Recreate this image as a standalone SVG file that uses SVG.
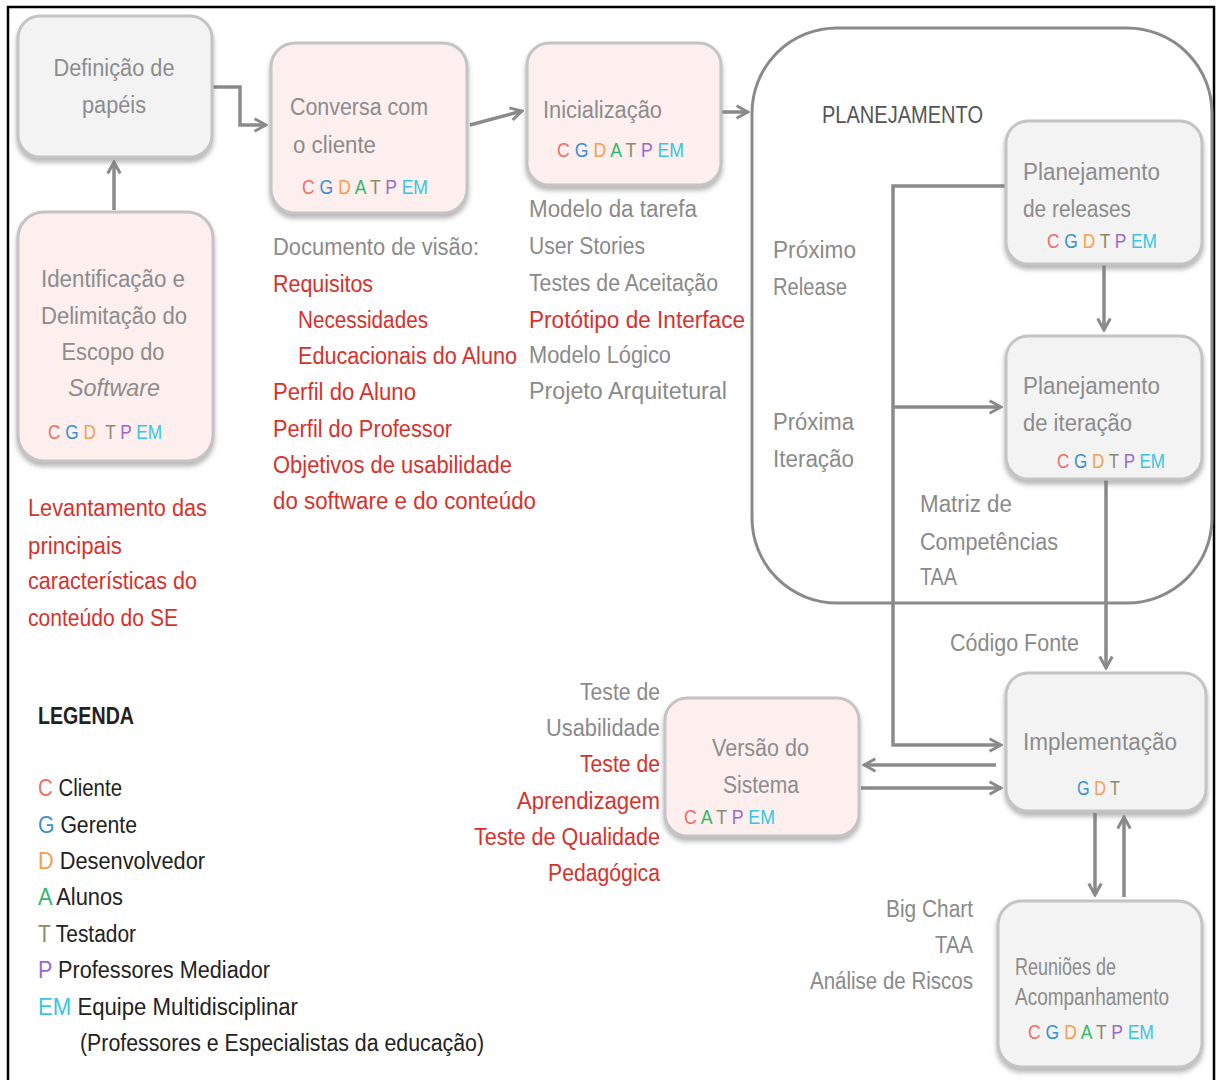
<svg xmlns="http://www.w3.org/2000/svg" width="1218" height="1080" viewBox="0 0 1218 1080">
<defs>
<style>
text{font-family:"Liberation Sans Narrow","Liberation Sans",Arial,sans-serif;font-size:23px}
.nt{fill:#8c8c8c}
.an{fill:#8a8a8a}
.rd{fill:#d8312c}
.lg{fill:#222}
.box{stroke:#c4c4c4;stroke-width:3;filter:url(#sh)}
.pk{fill:#fcefee}
.gr{fill:#f3f3f3}
.con{fill:none;stroke:#8a8a8a;stroke-width:3.5}
.rl{font-size:21px}
.c{fill:#ec6f66}.g{fill:#3b8fd1}.d{fill:#f2a052}.a{fill:#35b86b}.t{fill:#8b8b6c}.p{fill:#9b69c9}.em{fill:#38c6e0}
</style>
<filter id="sh" x="-10%" y="-10%" width="120%" height="130%">
<feDropShadow dx="0" dy="4" stdDeviation="2.5" flood-color="#777" flood-opacity="0.55"/>
</filter>
<marker id="ar" viewBox="0 0 14 14" refX="12" refY="7" markerWidth="16" markerHeight="16" markerUnits="userSpaceOnUse" orient="auto">
<path d="M2,1.5 L12,7 L2,12.5" fill="none" stroke="#8a8a8a" stroke-width="2.6"/>
</marker>
</defs>
<rect width="1218" height="1080" fill="#fff"/>
<rect x="8" y="7" width="1206" height="1090" fill="none" stroke="#000" stroke-width="2.5"/>

<g id="planejamento">
<rect x="752" y="28" width="460" height="575" rx="85" ry="85" fill="#fff" stroke="#8a8a8a" stroke-width="3"/>
<text x="822" y="123" fill="#555" font-size="22" textLength="161" lengthAdjust="spacingAndGlyphs">PLANEJAMENTO</text>
</g>

<g id="connectors">
<path class="con" d="M212,87 H240 V125 H266" marker-end="url(#ar)"/>
<path class="con" d="M114,210 V162" marker-end="url(#ar)"/>
<path class="con" d="M470,125 L522,111" marker-end="url(#ar)"/>
<path class="con" d="M722,112 H748" marker-end="url(#ar)"/>
<path class="con" d="M1005,186 H893 V745 H1001" marker-end="url(#ar)"/>
<path class="con" d="M893,407 H1001" marker-end="url(#ar)"/>
<path class="con" d="M1104,265 V330" marker-end="url(#ar)"/>
<path class="con" d="M1106,480 V668" marker-end="url(#ar)"/>
<path class="con" d="M996,765 H864" marker-end="url(#ar)"/>
<path class="con" d="M861,788 H1001" marker-end="url(#ar)"/>
<path class="con" d="M1095,813 V895" marker-end="url(#ar)"/>
<path class="con" d="M1124,897 V817" marker-end="url(#ar)"/>
</g>

<g id="definicao">
<rect class="box gr" x="18" y="16" width="194" height="141" rx="22"/>
<text class="nt" x="114" y="76" text-anchor="middle" textLength="121" lengthAdjust="spacingAndGlyphs">Definição de</text>
<text class="nt" x="114" y="113" text-anchor="middle" textLength="64" lengthAdjust="spacingAndGlyphs">papéis</text>
</g>

<g id="identificacao">
<rect class="box pk" x="18" y="212" width="195" height="249" rx="26"/>
<text class="nt" x="113" y="287" text-anchor="middle" textLength="144" lengthAdjust="spacingAndGlyphs">Identificação e</text>
<text class="nt" x="114" y="324" text-anchor="middle" textLength="146" lengthAdjust="spacingAndGlyphs">Delimitação do</text>
<text class="nt" x="113" y="360" text-anchor="middle" textLength="103" lengthAdjust="spacingAndGlyphs">Escopo  do</text>
<text class="nt" x="114" y="396" text-anchor="middle" font-style="italic" textLength="92" lengthAdjust="spacingAndGlyphs">Software</text>
<text class="rl" x="48" y="439" textLength="114" lengthAdjust="spacingAndGlyphs"><tspan class="c">C</tspan> <tspan class="g">G</tspan> <tspan class="d">D</tspan> <tspan class="t" dx="6">T</tspan> <tspan class="p">P</tspan> <tspan class="em">EM</tspan></text>
</g>

<g id="conversa">
<rect class="box pk" x="271" y="43" width="196" height="170" rx="24"/>
<text class="nt" x="290" y="115" textLength="138" lengthAdjust="spacingAndGlyphs">Conversa com</text>
<text class="nt" x="293" y="153" textLength="83" lengthAdjust="spacingAndGlyphs">o cliente</text>
<text class="rl" x="302" y="194" textLength="126" lengthAdjust="spacingAndGlyphs"><tspan class="c">C</tspan> <tspan class="g">G</tspan> <tspan class="d">D</tspan> <tspan class="a">A</tspan> <tspan class="t">T</tspan> <tspan class="p">P</tspan> <tspan class="em">EM</tspan></text>
</g>

<g id="inicializacao">
<rect class="box pk" x="527" y="43" width="194" height="142" rx="22"/>
<text class="nt" x="543" y="118" textLength="119" lengthAdjust="spacingAndGlyphs">Inicialização</text>
<text class="rl" x="557" y="157" textLength="127" lengthAdjust="spacingAndGlyphs"><tspan class="c">C</tspan> <tspan class="g">G</tspan> <tspan class="d">D</tspan> <tspan class="a">A</tspan> <tspan class="t">T</tspan> <tspan class="p">P</tspan> <tspan class="em">EM</tspan></text>
</g>

<g id="plan-releases">
<rect class="box gr" x="1006" y="121" width="196" height="143" rx="22"/>
<text class="nt" x="1023" y="180" textLength="137" lengthAdjust="spacingAndGlyphs">Planejamento</text>
<text class="nt" x="1023" y="217" textLength="108" lengthAdjust="spacingAndGlyphs">de releases</text>
<text class="rl" x="1047" y="248" textLength="110" lengthAdjust="spacingAndGlyphs"><tspan class="c">C</tspan> <tspan class="g">G</tspan> <tspan class="d">D</tspan> <tspan class="t">T</tspan> <tspan class="p">P</tspan> <tspan class="em">EM</tspan></text>
</g>

<g id="plan-iteracao">
<rect class="box gr" x="1006" y="336" width="196" height="143" rx="22"/>
<text class="nt" x="1023" y="394" textLength="137" lengthAdjust="spacingAndGlyphs">Planejamento</text>
<text class="nt" x="1023" y="431" textLength="109" lengthAdjust="spacingAndGlyphs">de iteração</text>
<text class="rl" x="1057" y="468" textLength="108" lengthAdjust="spacingAndGlyphs"><tspan class="c">C</tspan> <tspan class="g">G</tspan> <tspan class="d">D</tspan> <tspan class="t">T</tspan> <tspan class="p">P</tspan> <tspan class="em">EM</tspan></text>
</g>

<g id="implementacao">
<rect class="box gr" x="1006" y="673" width="200" height="138" rx="22"/>
<text class="nt" x="1023" y="750" textLength="154" lengthAdjust="spacingAndGlyphs">Implementação</text>
<text class="rl" x="1077" y="795" textLength="43" lengthAdjust="spacingAndGlyphs"><tspan class="g">G</tspan> <tspan class="d">D</tspan> <tspan class="t">T</tspan></text>
</g>

<g id="versao">
<rect class="box pk" x="665" y="698" width="194" height="138" rx="22"/>
<text class="nt" x="712" y="756" textLength="97" lengthAdjust="spacingAndGlyphs">Versão do</text>
<text class="nt" x="723" y="793" textLength="76" lengthAdjust="spacingAndGlyphs">Sistema</text>
<text class="rl" x="684" y="824" textLength="91" lengthAdjust="spacingAndGlyphs"><tspan class="c">C</tspan> <tspan class="a">A</tspan> <tspan class="t">T</tspan> <tspan class="p">P</tspan> <tspan class="em">EM</tspan></text>
</g>

<g id="reunioes">
<rect class="box gr" x="998" y="901" width="204" height="166" rx="24"/>
<text class="nt" x="1015" y="975" font-size="20" textLength="101" lengthAdjust="spacingAndGlyphs">Reuniões de</text>
<text class="nt" x="1015" y="1005" font-size="20" textLength="154" lengthAdjust="spacingAndGlyphs">Acompanhamento</text>
<text class="rl" x="1028" y="1039" textLength="126" lengthAdjust="spacingAndGlyphs"><tspan class="c">C</tspan> <tspan class="g">G</tspan> <tspan class="d">D</tspan> <tspan class="a">A</tspan> <tspan class="t">T</tspan> <tspan class="p">P</tspan> <tspan class="em">EM</tspan></text>
</g>

<g id="doc-visao">
<text class="an" x="273" y="255" textLength="206" lengthAdjust="spacingAndGlyphs">Documento de visão:</text>
<text class="rd" x="273" y="292" textLength="100" lengthAdjust="spacingAndGlyphs">Requisitos</text>
<text class="rd" x="298" y="328" textLength="130" lengthAdjust="spacingAndGlyphs">Necessidades</text>
<text class="rd" x="298" y="364" textLength="219" lengthAdjust="spacingAndGlyphs">Educacionais do Aluno</text>
<text class="rd" x="273" y="400" textLength="143" lengthAdjust="spacingAndGlyphs">Perfil do Aluno</text>
<text class="rd" x="273" y="437" textLength="179" lengthAdjust="spacingAndGlyphs">Perfil do Professor</text>
<text class="rd" x="273" y="473" textLength="239" lengthAdjust="spacingAndGlyphs">Objetivos de usabilidade</text>
<text class="rd" x="273" y="509" textLength="263" lengthAdjust="spacingAndGlyphs">do software e do conteúdo</text>
</g>

<g id="artefatos-inicializacao">
<text class="an" x="529" y="217" textLength="168" lengthAdjust="spacingAndGlyphs">Modelo da tarefa</text>
<text class="an" x="529" y="254" textLength="116" lengthAdjust="spacingAndGlyphs">User Stories</text>
<text class="an" x="529" y="291" textLength="189" lengthAdjust="spacingAndGlyphs">Testes de Aceitação</text>
<text class="rd" x="529" y="328" textLength="216" lengthAdjust="spacingAndGlyphs">Protótipo de Interface</text>
<text class="an" x="529" y="363" textLength="142" lengthAdjust="spacingAndGlyphs">Modelo Lógico</text>
<text class="an" x="529" y="399" textLength="198" lengthAdjust="spacingAndGlyphs">Projeto Arquitetural</text>
</g>

<g id="levantamento">
<text class="rd" x="28" y="516" textLength="179" lengthAdjust="spacingAndGlyphs">Levantamento das</text>
<text class="rd" x="28" y="554" textLength="94" lengthAdjust="spacingAndGlyphs">principais</text>
<text class="rd" x="28" y="589" textLength="169" lengthAdjust="spacingAndGlyphs">características do</text>
<text class="rd" x="28" y="626" textLength="150" lengthAdjust="spacingAndGlyphs">conteúdo do SE</text>
</g>

<g id="rotulos-planejamento">
<text class="an" x="773" y="258" textLength="83" lengthAdjust="spacingAndGlyphs">Próximo</text>
<text class="an" x="773" y="295" textLength="74" lengthAdjust="spacingAndGlyphs">Release</text>
<text class="an" x="773" y="430" textLength="81" lengthAdjust="spacingAndGlyphs">Próxima</text>
<text class="an" x="773" y="467" textLength="81" lengthAdjust="spacingAndGlyphs">Iteração</text>
<text class="an" x="920" y="512" textLength="92" lengthAdjust="spacingAndGlyphs">Matriz de</text>
<text class="an" x="920" y="550" textLength="138" lengthAdjust="spacingAndGlyphs">Competências</text>
<text class="an" x="920" y="585" textLength="37" lengthAdjust="spacingAndGlyphs">TAA</text>
<text class="an" x="950" y="651" textLength="129" lengthAdjust="spacingAndGlyphs">Código Fonte</text>
</g>

<g id="testes" text-anchor="end">
<text class="an" x="660" y="700" textLength="80" lengthAdjust="spacingAndGlyphs">Teste de</text>
<text class="an" x="660" y="736" textLength="114" lengthAdjust="spacingAndGlyphs">Usabilidade</text>
<text class="rd" x="660" y="772" textLength="80" lengthAdjust="spacingAndGlyphs">Teste de</text>
<text class="rd" x="660" y="809" textLength="143" lengthAdjust="spacingAndGlyphs">Aprendizagem</text>
<text class="rd" x="660" y="845" textLength="186" lengthAdjust="spacingAndGlyphs">Teste de Qualidade</text>
<text class="rd" x="660" y="881" textLength="112" lengthAdjust="spacingAndGlyphs">Pedagógica</text>
</g>

<g id="acompanhamento" text-anchor="end">
<text class="an" x="973" y="917" textLength="87" lengthAdjust="spacingAndGlyphs">Big Chart</text>
<text class="an" x="973" y="953" textLength="38" lengthAdjust="spacingAndGlyphs">TAA</text>
<text class="an" x="973" y="989" textLength="163" lengthAdjust="spacingAndGlyphs">Análise de Riscos</text>
</g>

<g id="legenda">
<text class="lg" x="38" y="724" font-weight="bold" font-size="22" textLength="96" lengthAdjust="spacingAndGlyphs">LEGENDA</text>
<text class="lg" x="38" y="796" textLength="84" lengthAdjust="spacingAndGlyphs"><tspan class="c">C</tspan> Cliente</text>
<text class="lg" x="38" y="833" textLength="99" lengthAdjust="spacingAndGlyphs"><tspan class="g">G</tspan> Gerente</text>
<text class="lg" x="38" y="869" textLength="167" lengthAdjust="spacingAndGlyphs"><tspan class="d">D</tspan> Desenvolvedor</text>
<text class="lg" x="38" y="905" textLength="85" lengthAdjust="spacingAndGlyphs"><tspan class="a">A</tspan> Alunos</text>
<text class="lg" x="38" y="942" textLength="98" lengthAdjust="spacingAndGlyphs"><tspan class="t">T</tspan> Testador</text>
<text class="lg" x="38" y="978" textLength="232" lengthAdjust="spacingAndGlyphs"><tspan class="p">P</tspan> Professores Mediador</text>
<text class="lg" x="38" y="1015" textLength="260" lengthAdjust="spacingAndGlyphs"><tspan class="em">EM</tspan> Equipe Multidisciplinar</text>
<text class="lg" x="80" y="1051" textLength="404" lengthAdjust="spacingAndGlyphs">(Professores e Especialistas  da educação)</text>
</g>
</svg>
